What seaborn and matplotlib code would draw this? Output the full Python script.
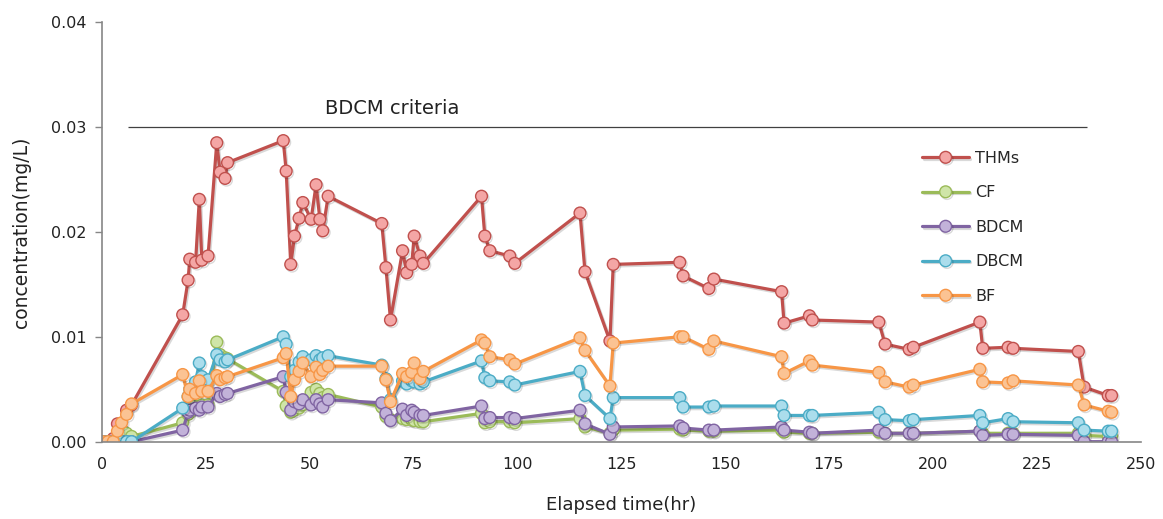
import matplotlib
matplotlib.use("Agg")
import matplotlib.pyplot as plt
import matplotlib.patheffects as pe
import seaborn as sns
import pandas as pd

# Elapsed time (hr), shared by all species
time_hr = [0.2, 1.5, 2.8, 3.8, 4.8, 6.0, 7.2,
           19.5, 20.8, 21.2, 22.6, 23.5, 24.1, 25.6, 27.7, 28.5, 29.7, 30.3,
           43.7, 44.4, 45.5, 46.4, 47.5, 48.4, 50.4, 51.6, 52.5, 53.2, 54.5,
           67.4, 68.4, 69.5, 72.4, 73.4, 74.6, 75.2, 76.6, 77.4,
           91.4, 92.2, 93.4, 98.2, 99.4,
           115.1, 116.3, 122.3, 123.1,
           139.1, 139.9, 146.1, 147.3,
           163.6, 164.2, 170.3, 171.0,
           187.0, 188.5, 194.3, 195.3,
           211.3, 212.0, 218.1, 219.3,
           235.0, 236.4, 242.2, 243.0]

thms = [0.0, 0.0, 0.0003, 0.0017, 0.0012, 0.0030, 0.0035,
        0.0121, 0.0154, 0.0174, 0.0171, 0.0231, 0.0173, 0.0177, 0.0285, 0.0257, 0.0251, 0.0266,
        0.0287, 0.0258, 0.0169, 0.0196, 0.0213, 0.0228, 0.0212, 0.0245, 0.0212, 0.0201, 0.0234,
        0.0208, 0.0166, 0.0116, 0.0182, 0.0161, 0.0169, 0.0196, 0.0177, 0.0170,
        0.0234, 0.0196, 0.0182, 0.0177, 0.0170,
        0.0218, 0.0162, 0.0096, 0.0169,
        0.0171, 0.0158, 0.0146, 0.0155,
        0.0143, 0.0113, 0.0120, 0.0116,
        0.0114, 0.0093, 0.0088, 0.0090,
        0.0114, 0.0089, 0.0090, 0.0089,
        0.0086, 0.0052, 0.0044, 0.0044]

cf = [0.0, 0.0, 0.0, 0.0, 0.0002, 0.0008, 0.0005,
      0.0018, 0.0026, 0.0030, 0.0034, 0.0034, 0.0035, 0.0035, 0.0095, 0.0083, 0.0080, 0.0079,
      0.0048, 0.0034, 0.0028, 0.0030, 0.0032, 0.0035, 0.0047, 0.0050, 0.0046, 0.0042, 0.0045,
      0.0033, 0.0024, 0.0021, 0.0022, 0.0021, 0.0021, 0.0020, 0.0019, 0.0019,
      0.0027, 0.0018, 0.0019, 0.0019, 0.0018,
      0.0022, 0.0014, 0.0008, 0.0011,
      0.0012, 0.0011, 0.0010, 0.0010,
      0.0011, 0.0009, 0.0008, 0.0008,
      0.0009, 0.0008, 0.0008, 0.0008,
      0.0010, 0.0008, 0.0008, 0.0008,
      0.0008, 0.0006, 0.0005, 0.0005]

bdcm = [0.0, 0.0, 0.0, 0.0, 0.0, 0.0, 0.0,
        0.0011, 0.0028, 0.0030, 0.0032, 0.0030, 0.0033, 0.0033, 0.0046, 0.0043, 0.0045, 0.0046,
        0.0062, 0.0047, 0.0030, 0.0038, 0.0036, 0.0040, 0.0035, 0.0040, 0.0036, 0.0033, 0.0040,
        0.0037, 0.0027, 0.0020, 0.0031, 0.0025, 0.0030, 0.0028, 0.0025, 0.0025,
        0.0034, 0.0022, 0.0023, 0.0023, 0.0022,
        0.0030, 0.0017, 0.0007, 0.0014,
        0.0015, 0.0013, 0.0011, 0.0011,
        0.0014, 0.0011, 0.0009, 0.0008,
        0.0011, 0.0008, 0.0008, 0.0008,
        0.0010, 0.0006, 0.0007, 0.0007,
        0.0006, 0.0000, 0.0000, 0.0000]

dbcm = [0.0, 0.0, 0.0, 0.0, 0.0, 0.0, 0.0,
        0.0032, 0.0043, 0.0050, 0.0057, 0.0075, 0.0062, 0.0059, 0.0083, 0.0078, 0.0076, 0.0078,
        0.0100, 0.0093, 0.0062, 0.0068, 0.0076, 0.0081, 0.0078, 0.0082, 0.0078, 0.0080, 0.0082,
        0.0073, 0.0060, 0.0040, 0.0058, 0.0055, 0.0058, 0.0057, 0.0055, 0.0057,
        0.0077, 0.0061, 0.0058, 0.0057, 0.0054,
        0.0067, 0.0044, 0.0022, 0.0042,
        0.0042, 0.0033, 0.0033, 0.0034,
        0.0034, 0.0025, 0.0025, 0.0025,
        0.0028, 0.0021, 0.0020, 0.0021,
        0.0025, 0.0018, 0.0022, 0.0019,
        0.0018, 0.0011, 0.0010, 0.0010]

bf = [0.0, 0.0, 0.0, 0.0010, 0.0018, 0.0026, 0.0036,
      0.0064, 0.0043, 0.0050, 0.0046, 0.0058, 0.0048, 0.0048, 0.0063, 0.0059, 0.0061, 0.0062,
      0.0080, 0.0084, 0.0043, 0.0059, 0.0067, 0.0075, 0.0062, 0.0071, 0.0064, 0.0068, 0.0072,
      0.0072, 0.0059, 0.0038, 0.0065, 0.0062, 0.0066, 0.0075, 0.0060, 0.0067,
      0.0097, 0.0094, 0.0081, 0.0078, 0.0074,
      0.0099, 0.0087, 0.0053, 0.0094,
      0.0100, 0.0100, 0.0088, 0.0096,
      0.0081, 0.0065, 0.0077, 0.0073,
      0.0066, 0.0057, 0.0052, 0.0054,
      0.0069, 0.0057, 0.0056, 0.0058,
      0.0054, 0.0035, 0.0029, 0.0028]

# BDCM criteria line
CRITERIA = 0.030
CRITERIA_SPAN = (6.3, 237.0)

# name: (values, line colour, marker face colour)
SERIES = {
    "THMs": (thms, "#C0504D", "#F4A6A5"),
    "CF":   (cf,   "#9BBB59", "#CFE5A8"),
    "BDCM": (bdcm, "#8064A2", "#C2B2D9"),
    "DBCM": (dbcm, "#4BACC6", "#ABDDEC"),
    "BF":   (bf,   "#F79646", "#FBC393"),
}

sns.set_style("white")
plt.rcParams["font.family"] = ["DejaVu Sans"]

fig = plt.figure(figsize=(11.63, 5.19), dpi=100)
ax = fig.add_axes([0.0874, 0.149, 0.8934, 0.8084])

shadow = [pe.SimpleLineShadow(offset=(1.0, -1.2), shadow_color="k", alpha=0.15), pe.Normal()]

# series order like the spreadsheet: later ones on top
for name, (vals, col, face) in SERIES.items():
    df = pd.DataFrame({"t": time_hr, "c": vals})
    sns.lineplot(data=df, x="t", y="c", ax=ax, sort=False, estimator=None,
                 color=col, lw=2.3, marker="o", markersize=8.5,
                 markerfacecolor=face, markeredgecolor=col, markeredgewidth=1.0,
                 label=name, path_effects=shadow)

ax.hlines(CRITERIA, *CRITERIA_SPAN, color="#404040", lw=0.9)
ax.text(70, 0.0318, "BDCM criteria", ha="center", va="center", fontsize=14, color="#222222")

ax.set_xlim(0, 250)
ax.set_ylim(0, 0.04)
ax.set_xticks(range(0, 251, 25))
ax.set_yticks([0.0, 0.01, 0.02, 0.03, 0.04])
ax.set_yticklabels([f"{v:.2f}" for v in ax.get_yticks()])
ax.tick_params(axis="x", length=0, pad=11, labelsize=11.5, colors="#222222")
ax.tick_params(axis="y", length=5, width=1, color="#868686", direction="out",
               left=True, pad=6, labelsize=11.5, labelcolor="#222222")
ax.set_xlabel("Elapsed time(hr)", fontsize=13, labelpad=17, color="#222222")
ax.set_ylabel("concentration(mg/L)", fontsize=13.5, labelpad=14, color="#222222")

sns.despine(ax=ax)
for s in ("left", "bottom"):
    ax.spines[s].set_color("#868686")
    ax.spines[s].set_linewidth(1.2)

ax.legend(loc="upper left", bbox_to_anchor=(0.79, 0.693), frameon=False, fontsize=11.5,
          handlelength=2.9, handletextpad=0.4, labelspacing=1.22,
          borderpad=0, borderaxespad=0)

fig.savefig("out.png", dpi=100)
